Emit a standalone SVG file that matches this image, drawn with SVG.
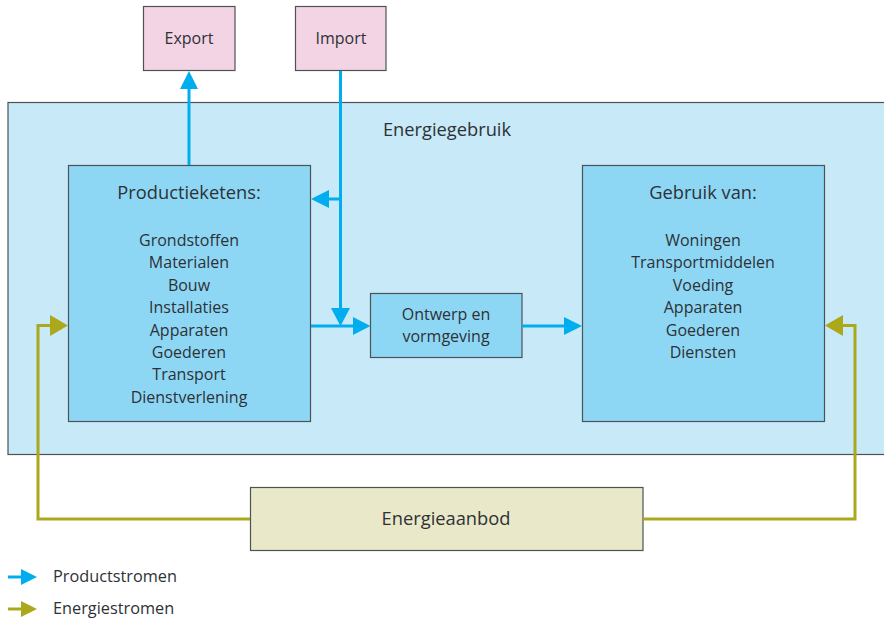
<svg xmlns="http://www.w3.org/2000/svg" width="884" height="620" viewBox="0 0 884 620">
<defs>
<style>
text{font-family:"Open Sans","Noto Sans","Liberation Sans",sans-serif;fill:#2e3135;text-anchor:middle}
.box{stroke:#4d5257;stroke-width:1.2}
.pink{fill:#f3d4e4}
.light{fill:#c7e9f8}
.mid{fill:#8dd7f5}
.beige{fill:#e9e8c9}
.blue{stroke:#00aeef;stroke-width:3;fill:none}
.olive{stroke:#aca81c;stroke-width:3;fill:none}
.t16{font-size:16px}
.tl{font-size:16.3px;text-anchor:start}
.t18{font-size:18.3px}
</style>
</defs>
<rect width="884" height="620" fill="#ffffff"/>
<g id="energiegebruik">
<rect class="box light" x="8" y="102.5" width="880" height="352"/>
<text class="t18" x="447" y="136">Energiegebruik</text>
</g>
<g id="export">
<rect class="box pink" x="143.5" y="6.5" width="91.5" height="64"/>
<text class="t16" x="189" y="44">Export</text>
</g>
<g id="import">
<rect class="box pink" x="295.5" y="6.5" width="90.5" height="64"/>
<text class="t16" x="341" y="44">Import</text>
</g>
<g id="productieketens">
<rect class="box mid" x="68.5" y="165.5" width="242" height="256"/>
<text class="t18" x="189" y="199">Productieketens:</text>
<text class="t16" x="189" y="246">Grondstoffen</text>
<text class="t16" x="189" y="268">Materialen</text>
<text class="t16" x="189" y="291">Bouw</text>
<text class="t16" x="189" y="313">Installaties</text>
<text class="t16" x="189" y="336">Apparaten</text>
<text class="t16" x="189" y="358">Goederen</text>
<text class="t16" x="189" y="380">Transport</text>
<text class="t16" x="189" y="403">Dienstverlening</text>
</g>
<g id="ontwerp">
<rect class="box mid" x="370.5" y="293.5" width="151.5" height="64"/>
<text class="t16" x="446" y="320">Ontwerp en</text>
<text class="t16" x="446" y="342">vormgeving</text>
</g>
<g id="gebruik">
<rect class="box mid" x="582.5" y="165.5" width="242" height="256"/>
<text class="t18" x="703" y="199">Gebruik van:</text>
<text class="t16" x="703" y="246">Woningen</text>
<text class="t16" x="703" y="268">Transportmiddelen</text>
<text class="t16" x="703" y="291">Voeding</text>
<text class="t16" x="703" y="313">Apparaten</text>
<text class="t16" x="703" y="336">Goederen</text>
<text class="t16" x="703" y="358">Diensten</text>
</g>
<g id="energieaanbod">
<rect class="box beige" x="250.5" y="487.5" width="392.5" height="63"/>
<text class="t18" x="446" y="525">Energieaanbod</text>
</g>
<g id="connectors">
<line class="blue" x1="189" y1="165" x2="189" y2="88"/>
<path d="M180,89 L189,71 L198,89 z" fill="#00aeef"/>
<line class="blue" x1="340.5" y1="71" x2="340.5" y2="308"/>
<path d="M331,308 L340.5,326 L350,308 z" fill="#00aeef"/>
<line class="blue" x1="340.5" y1="199" x2="328" y2="199"/>
<path d="M329,190 L311,199 L329,208 z" fill="#00aeef"/>
<line class="blue" x1="311" y1="326" x2="355" y2="326"/>
<path d="M353,317 L370.5,326 L353,335 z" fill="#00aeef"/>
<line class="blue" x1="522" y1="326" x2="565" y2="326"/>
<path d="M564,317 L582,326 L564,335 z" fill="#00aeef"/>
<polyline class="olive" points="250,519 38,519 38,325.5 51,325.5"/>
<path d="M50,315 L68,325.5 L50,336 z" fill="#aca81c"/>
<polyline class="olive" points="643,519 855,519 855,325.5 842,325.5"/>
<path d="M843,315 L825,325.5 L843,336 z" fill="#aca81c"/>
</g>
<g id="legend">
<line class="blue" x1="8" y1="577" x2="22" y2="577"/>
<path d="M21,569 L37,577 L21,585 z" fill="#00aeef"/>
<text class="tl" x="53" y="582">Productstromen</text>
<line class="olive" x1="8" y1="609" x2="22" y2="609"/>
<path d="M21,601 L37,609 L21,617 z" fill="#aca81c"/>
<text class="tl" x="53" y="614">Energiestromen</text>
</g>
</svg>
